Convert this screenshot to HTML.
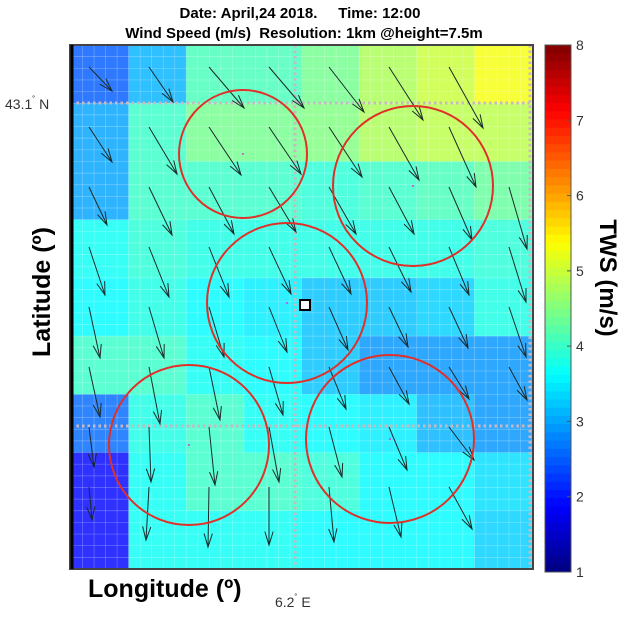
<!DOCTYPE html>
<html><head><meta charset="utf-8"><style>
body{margin:0;background:#fff;width:640px;height:623px;overflow:hidden;font-family:"Liberation Sans",sans-serif}
svg{display:block}
</style></head><body>
<svg id="chart" width="640" height="623">
<text x="300" y="18" text-anchor="middle" font-size="15" font-weight="bold">Date: April,24 2018.&#160;&#160;&#160;&#160;&#160;Time: 12:00</text>
<text x="304" y="38" text-anchor="middle" font-size="15" font-weight="bold">Wind Speed (m/s)&#160;&#160;Resolution: 1km @height=7.5m</text>
<g id="cells"></g>
<g id="mesh"></g>
<g id="dots"></g>
<g id="arrows"></g>
<g id="circles"></g>
<rect x="300" y="300" width="10" height="10" fill="#fff" stroke="#000" stroke-width="2"/>
<rect x="70" y="45" width="463" height="524" fill="none" stroke="#444" stroke-width="2"/>
<line x1="72" y1="45" x2="72" y2="569" stroke="#000" stroke-width="3"/>
<text x="5" y="109" font-size="14" fill="#333">43.1<tspan font-size="9" dy="-6">˚</tspan><tspan dy="6"> N</tspan></text>
<text x="275" y="607" font-size="14" fill="#333">6.2<tspan font-size="9" dy="-6">˚</tspan><tspan dy="6"> E</tspan></text>
<text x="88" y="597" font-size="25" font-weight="bold">Longitude (º)</text>
<text transform="translate(50,292) rotate(-90)" text-anchor="middle" font-size="25" font-weight="bold">Latitude (º)</text>
<g id="cbar"></g>
<text transform="translate(600,278) rotate(90)" text-anchor="middle" font-size="24" font-weight="bold">TWS (m/s)</text>
</svg>
<script>
// 9 rows (top to bottom) x 8 columns of wind speed (m/s)
const tws = [
 [2.5,3.1,4.1,4.1,4.4,4.8,5.0,5.3],
 [3.0,4.0,4.4,4.4,4.5,4.8,4.9,4.9],
 [3.0,4.0,4.0,4.0,3.9,4.0,4.1,4.3],
 [3.7,3.9,3.8,3.8,3.8,3.8,3.8,3.9],
 [3.6,3.8,3.6,3.5,3.2,3.2,3.3,3.8],
 [4.0,4.0,3.7,3.6,3.2,2.9,2.9,2.9],
 [2.6,3.8,4.0,3.7,3.6,3.5,3.1,2.9],
 [1.9,3.7,4.0,4.0,3.9,3.6,3.6,3.4],
 [1.9,3.7,3.7,3.7,3.6,3.6,3.6,3.3]
];
// wind vector components (east, south) per arrow row x column; null = missing
const vecU = [
 [23,24,35,35,35,34,34,null],
 [23,28,32,32,33,30,27,null],
 [18,23,25,27,27,25,23,18],
 [16,20,20,22,22,22,20,17],
 [11,15,15,18,19,19,19,17],
 [11,11,11,14,17,20,20,18],
 [5,2,6,10,13,18,25,null],
 [3,-3,-1,0,5,12,23,null]
];
const vecV = [
 [24,35,41,41,45,53,61,null],
 [35,47,48,47,50,53,60,null],
 [38,48,47,45,47,47,53,62],
 [48,50,50,47,47,45,48,55],
 [51,51,50,45,43,40,41,50],
 [50,57,53,48,42,37,32,33],
 [40,55,58,55,50,43,33,null],
 [33,53,60,58,55,50,42,null]
];
const circleCx = [243,413,287,189,390];
const circleCy = [154,186,303,445,439];
const circleR = [64,80,80,80,84];
const cbTicks = [1,2,3,4,5,6,7,8];

const NS='http://www.w3.org/2000/svg';
function mk(tag,attrs,parent){const e=document.createElementNS(NS,tag);for(const k in attrs)e.setAttribute(k,attrs[k]);parent.appendChild(e);return e;}
const X0=71,X1=532,Y0=45,Y1=569,VMIN=1,VMAX=8;
const nC=8,nR=9,cw=(X1-X0)/nC,ch=(Y1-Y0)/nR;
function clamp(x){return Math.max(0,Math.min(1,x));}
function jet(v,a){const t=(v-VMIN)/(VMAX-VMIN);
 let r=clamp(1.5-Math.abs(4*t-3)),g=clamp(1.5-Math.abs(4*t-2)),b=clamp(1.5-Math.abs(4*t-1));
 if(a){r=r*a+(1-a);g=g*a+(1-a);b=b*a+(1-a);}
 return 'rgb('+Math.round(r*255)+','+Math.round(g*255)+','+Math.round(b*255)+')';}
const cells=document.getElementById('cells');
tws.forEach((row,i)=>row.forEach((v,j)=>{
 const r=mk('rect',{x:X0+j*cw,y:Y0+i*ch,width:cw+0.5,height:ch+0.5,fill:jet(v,0.82)},cells);
 
 
}));
const mesh=document.getElementById('mesh');
for(let x=X0+cw/5;x<X1;x+=cw/5)mk('line',{x1:x,y1:Y0,x2:x,y2:Y1,stroke:'#fff','stroke-opacity':0.3,'stroke-width':0.7},mesh);
for(let y=Y0+ch/5;y<Y1;y+=ch/5)mk('line',{x1:X0,y1:y,x2:X1,y2:y,stroke:'#fff','stroke-opacity':0.3,'stroke-width':0.7},mesh);
const dots=document.getElementById('dots');
[[X0,103,X1,103],[X0,426,X1,426],[295,Y0,295,Y1],[530,Y0,530,Y1]].forEach(l=>{
 mk('line',{x1:l[0],y1:l[1],x2:l[2],y2:l[3],stroke:'#c8b8c0','stroke-width':3,'stroke-dasharray':'2.5,3'},dots);
});
const arrows=document.getElementById('arrows');
vecU.forEach((row,i)=>row.forEach((u,j)=>{
 const v=vecV[i][j]; if(u===null||v===null)return;
 const x=89+60*j,y=67+60*i,x2=x+u,y2=y+v;
 const g=mk('g',{stroke:'#1a2a2a','stroke-width':1,fill:'none'},arrows);
 
 
 mk('line',{x1:x,y1:y,x2:x2,y2:y2},g);
 const a=Math.atan2(v,u),L=14,s=0.3;
 mk('polyline',{points:(x2-L*Math.cos(a-s))+','+(y2-L*Math.sin(a-s))+' '+x2+','+y2+' '+(x2-L*Math.cos(a+s))+','+(y2-L*Math.sin(a+s))},g);
}));
const circ=document.getElementById('circles');
circleCx.forEach((cx,k)=>{
 const c=mk('circle',{cx:cx,cy:circleCy[k],r:circleR[k],fill:'none',stroke:'#e0302a','stroke-width':2},circ);
 
 
 mk('circle',{cx:cx,cy:circleCy[k],r:1,fill:'#d040e0'},circ);
});
const cb=document.getElementById('cbar');
const CX=545,CW=26,CT=45,CB=572;
const n=64;
for(let k=0;k<n;k++){const v=VMIN+(k+0.5)*(VMAX-VMIN)/n;const h=(CB-CT)/n;
 mk('rect',{x:CX,y:CB-(k+1)*h,width:CW,height:h+0.4,fill:jet(v)},cb);}
mk('rect',{x:CX,y:CT,width:CW,height:CB-CT,fill:'none',stroke:'#555','stroke-width':1},cb);
cbTicks.forEach(t=>{const y=CB-(t-VMIN)/(VMAX-VMIN)*(CB-CT);
 mk('line',{x1:CX+CW-4,y1:y,x2:CX+CW,y2:y,stroke:'#555'},cb);
 const tx=mk('text',{x:CX+CW+5,y:y+5,'font-size':14,fill:'#333'},cb);tx.textContent=t;
 
 
});
</script>
</body></html>
